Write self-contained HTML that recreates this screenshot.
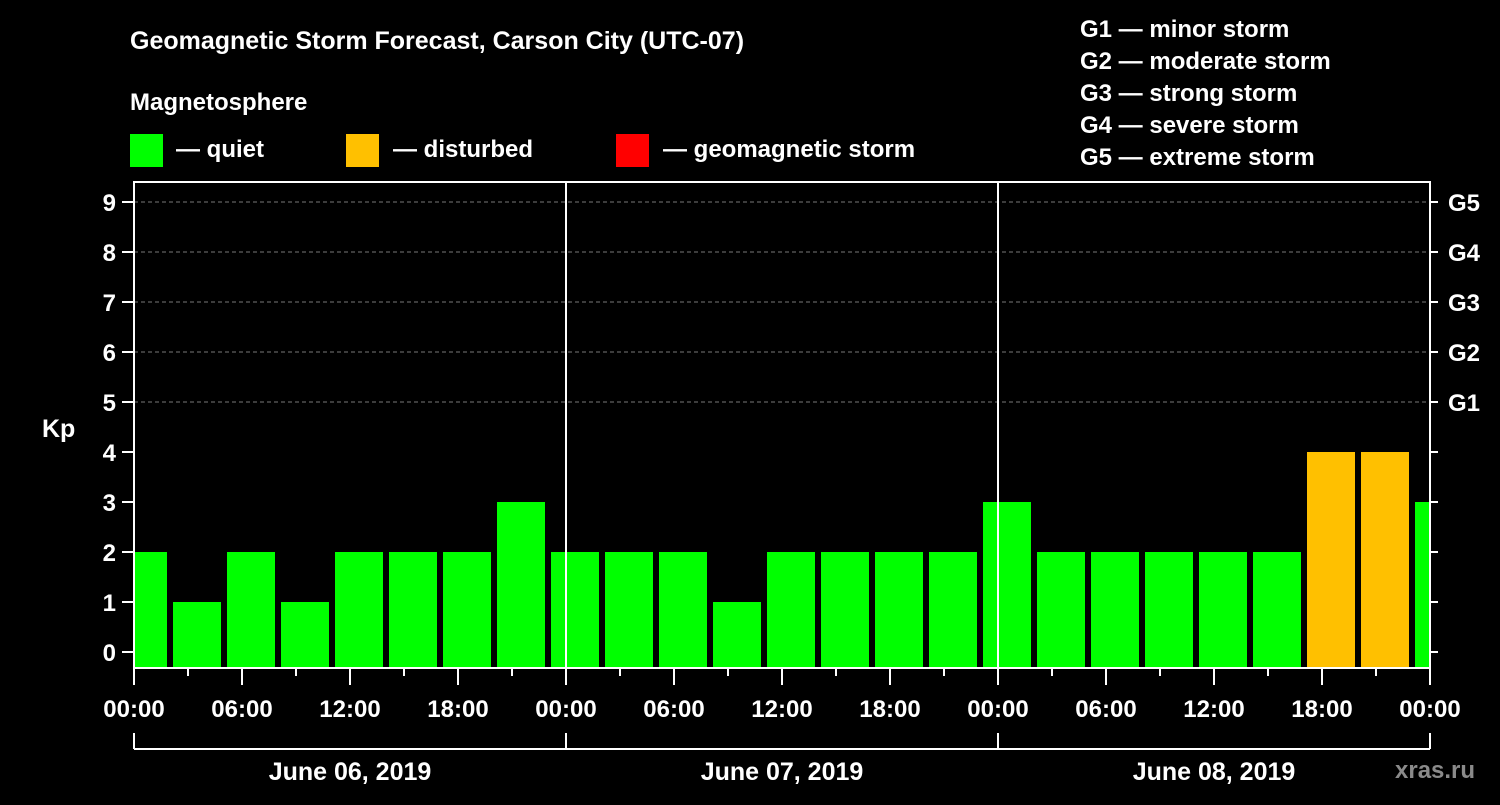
<!DOCTYPE html>
<html><head><meta charset="utf-8"><style>
body{margin:0;background:#000;}
svg text{font-family:"Liberation Sans",sans-serif;font-weight:bold;fill:#fff;}
</style></head><body>
<svg id="c" width="1500" height="800" xmlns="http://www.w3.org/2000/svg">
<rect width="1500" height="800" fill="#000"/>
<text x="130" y="49" font-size="25">Geomagnetic Storm Forecast, Carson City (UTC-07)</text>
<text x="130" y="110" font-size="24">Magnetosphere</text>
<g><rect x="130" y="134" width="33" height="33" fill="#00ff00"/><text x="176" y="157" font-size="24">— quiet</text></g>
<g><rect x="346" y="134" width="33" height="33" fill="#ffc000"/><text x="393" y="157" font-size="24">— disturbed</text></g>
<g><rect x="616" y="134" width="33" height="33" fill="#ff0000"/><text x="663" y="157" font-size="24">— geomagnetic storm</text></g>
<g font-size="24">
<text x="1080" y="37">G1 — minor storm</text>
<text x="1080" y="69">G2 — moderate storm</text>
<text x="1080" y="101">G3 — strong storm</text>
<text x="1080" y="133">G4 — severe storm</text>
<text x="1080" y="165">G5 — extreme storm</text>
</g>
<text x="42" y="437" font-size="25">Kp</text>
<text x="1395" y="778" font-size="24" fill="#888" style="fill:#8a8a8a">xras.ru</text>
<g id="plot"></g>
</svg>
<script>
const values=[2,1,2,1,2,2,2,3, 2,2,2,1,2,2,2,2, 3,2,2,2,2,2,4,4, 3];
const yTicks=[0,1,2,3,4,5,6,7,8,9];
const gLabels=["G1","G2","G3","G4","G5"];
const xLabels=["00:00","06:00","12:00","18:00","00:00","06:00","12:00","18:00","00:00","06:00","12:00","18:00","00:00"];
const dayLabels=["June 06, 2019","June 07, 2019","June 08, 2019"];
const L=134,R=1430,T=182,B=668;
const xs=h=>L+h*(R-L)/72;
const ys=v=>652-v*50;
const NS="http://www.w3.org/2000/svg";
const g=document.getElementById('plot');
function mk(t,a,p){const e=document.createElementNS(NS,t);for(const k in a)e.setAttribute(k,a[k]);(p||g).appendChild(e);return e;}
// grid
[5,6,7,8,9].forEach(v=>{const l=mk('line',{x1:L,x2:R,y1:ys(v),y2:ys(v),stroke:'#777','stroke-dasharray':'4,3','stroke-width':1});

});
// bars
const clip=mk('clipPath',{id:'pc'});mk('rect',{x:L,y:T,width:R-L,height:B-T},clip);
values.forEach((v,i)=>{const c=3*i+0.5;const w=48;const x=xs(c)-w/2;
const r=mk('rect',{x:x,y:ys(v),width:w,height:B-ys(v),fill:v>=5?'#ff0000':(v>=4?'#ffc000':'#00ff00'),'clip-path':'url(#pc)'});

});
// frame
mk('rect',{x:L,y:T,width:R-L,height:B-T,fill:'none',stroke:'#fff','stroke-width':2});
[24,48].forEach(h=>mk('line',{x1:xs(h),x2:xs(h),y1:T,y2:B,stroke:'#fff','stroke-width':2}));
// y ticks
yTicks.forEach(v=>{mk('line',{x1:L-12,x2:L,y1:ys(v),y2:ys(v),stroke:'#fff','stroke-width':2});
mk('line',{x1:R,x2:R+8,y1:ys(v),y2:ys(v),stroke:'#fff','stroke-width':2});
const t=mk('text',{x:L-18,y:ys(v)+9,'font-size':24,'text-anchor':'end'});t.textContent=v;

});
gLabels.forEach((s,i)=>{const t=mk('text',{x:1448,y:ys(5+i)+9,'font-size':24});t.textContent=s;

});
// x ticks
for(let h=0;h<=72;h+=3){mk('line',{x1:xs(h),x2:xs(h),y1:B,y2:B+(h%6==0?17:8),stroke:'#fff','stroke-width':2});}
xLabels.forEach((s,i)=>{const t=mk('text',{x:xs(i*6),y:717,'font-size':24,'text-anchor':'middle'});t.textContent=s;

});
// day bracket
mk('line',{x1:L,x2:R,y1:749,y2:749,stroke:'#fff','stroke-width':2});
[0,24,48,72].forEach(h=>mk('line',{x1:xs(h),x2:xs(h),y1:733,y2:749,stroke:'#fff','stroke-width':2}));
dayLabels.forEach((s,i)=>{const t=mk('text',{x:xs(i*24+12),y:780,'font-size':25,'text-anchor':'middle'});t.textContent=s;

});
</script>
</body></html>
